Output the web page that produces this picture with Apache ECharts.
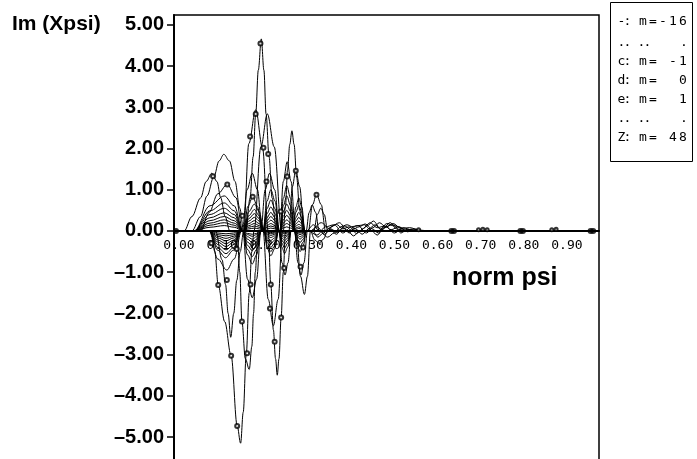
<!DOCTYPE html>
<html>
<head>
<meta charset="utf-8">
<script src="https://cdn.jsdelivr.net/npm/echarts@6.0.0/dist/echarts.min.js"></script>
<style>
html,body{margin:0;padding:0;background:#fff;}
#chart{width:697px;height:459px;}
</style>
</head>
<body>
<div id="chart"></div>
<script>
// Tick labels
const yTicks = [-5, -4, -3, -2, -1, 0, 1, 2, 3, 4, 5];
const xTicks = [0, 0.1, 0.2, 0.3, 0.4, 0.5, 0.6, 0.7, 0.8, 0.9];

// Legend rows: letter, m value
const legendLetters = ['-', 'c', 'd', 'e', 'Z'];
const legendValues = ['-16', ' -1', '  0', '  1', ' 48'];

// Large curves
const curve01 = [[0,0],[0.03,0],[0.05,0.35],[0.065,0.85],[0.081,1.32],[0.093,1.7],[0.104,1.86],[0.117,1.7],[0.13,1.2],[0.141,0.55],[0.15,0],[0.155,0],[0.165,0.8],[0.172,1.8],[0.178,2.84],[0.184,3.9],[0.191,4.66],[0.197,3.9],[0.202,2.84],[0.209,1.8],[0.216,0.8],[0.226,0],[0.232,0],[0.239,-0.77],[0.246,-1.07],[0.253,-0.77],[0.26,0],[0.3,0],[0.31,0.64],[0.319,0.89],[0.33,0.64],[0.34,0],[0.97,0]];
const curve02 = [[0,0],[0.06,0],[0.075,0],[0.083,-0.5],[0.091,-1.31],[0.106,-2.2],[0.121,-3.03],[0.135,-4.73],[0.143,-5.15],[0.149,-4.4],[0.156,-3.0],[0.163,-1.5],[0.169,-0.5],[0.174,0],[0.19,2.04],[0.205,2.84],[0.221,2.04],[0.238,0],[0.272,0],[0.282,-1.1],[0.291,-1.54],[0.298,-1.1],[0.305,0],[0.97,0]];
const curve03 = [[0,0],[0.012,0],[0.03,0.35],[0.05,0.8],[0.063,1.2],[0.076,1.4],[0.088,1.2],[0.097,0.8],[0.107,0.35],[0.118,0],[0.135,0],[0.141,-1.0],[0.146,-2.2],[0.154,-3.1],[0.163,-3.36],[0.169,-2.8],[0.173,-2.0],[0.177,-1.0],[0.183,0],[0.19,0],[0.2,1.0],[0.21,1.4],[0.222,1.0],[0.233,0],[0.268,0],[0.276,-0.77],[0.283,-1.07],[0.29,-0.77],[0.298,0],[0.97,0]];
const curve04 = [[0,0],[0.085,0],[0.1,-0.7],[0.108,-1.3],[0.114,-2.0],[0.12,-2.58],[0.127,-2.0],[0.134,-1.2],[0.142,-0.5],[0.15,0],[0.162,2.12],[0.178,2.94],[0.194,2.0],[0.207,0],[0.213,-1.3],[0.219,-2.4],[0.224,-3.1],[0.228,-3.5],[0.232,-3.1],[0.237,-2.1],[0.242,-1.0],[0.247,0],[0.97,0]];
const curve05 = [[0,0],[0.07,0],[0.09,-0.68],[0.111,-0.95],[0.128,-0.68],[0.145,0],[0.147,0],[0.158,1.0],[0.17,1.4],[0.182,1.0],[0.193,0],[0.195,0],[0.207,-1.66],[0.219,-2.3],[0.23,-1.66],[0.24,0],[0.242,0],[0.247,0.6],[0.252,1.5],[0.257,2.1],[0.262,2.43],[0.267,2.1],[0.273,1.3],[0.28,0.5],[0.288,0],[0.97,0]];
const curve06 = [[0,0],[0.05,0],[0.07,0.45],[0.09,0.9],[0.112,1.13],[0.132,0.81],[0.148,0],[0.159,-1.17],[0.17,-1.62],[0.18,-1.17],[0.19,0],[0.195,0],[0.204,0.72],[0.213,1.0],[0.223,0.72],[0.232,0],[0.234,0],[0.242,1.2],[0.251,1.68],[0.26,1.2],[0.27,0],[0.305,0],[0.315,-0.22],[0.325,-0.3],[0.335,-0.2],[0.345,0],[0.97,0]];
const curve07 = [[0,0],[0.07,0],[0.09,-0.47],[0.108,-0.65],[0.126,-0.47],[0.145,0],[0.15,0],[0.16,0.6],[0.171,0.83],[0.182,0.6],[0.192,0],[0.197,0],[0.205,-0.43],[0.213,-0.6],[0.222,-0.43],[0.231,0],[0.255,0],[0.263,1.07],[0.271,1.48],[0.28,1.07],[0.29,0],[0.295,0],[0.302,0.45],[0.309,0.63],[0.317,0.45],[0.325,0],[0.97,0]];

// Nested curves, first family
const curve08 = [[0,0],[0.035,0],[0.072,0.61],[0.105,0.85],[0.128,0.61],[0.148,0],[0.159,-0.58],[0.17,-0.8],[0.18,-0.58],[0.19,0],[0.195,0],[0.204,0.54],[0.213,0.75],[0.223,0.54],[0.232,0],[0.239,-0.4],[0.245,-0.55],[0.252,-0.4],[0.26,0],[0.264,0],[0.271,0.58],[0.278,0.8],[0.285,0.58],[0.292,0],[0.313,0],[0.321,0.4],[0.329,0.55],[0.337,0.4],[0.345,0],[0.355,0.12],[0.372,0.2],[0.39,0.02],[0.405,-0.12],[0.42,0],[0.436,0.12],[0.451,0.24],[0.468,0.05],[0.482,0.18],[0.5,0.12],[0.515,-0.05],[0.53,0.04],[0.56,0],[0.97,0]];
const curve09 = [[0,0],[0.035,0],[0.072,0.49],[0.105,0.68],[0.128,0.49],[0.148,0],[0.159,-0.45],[0.17,-0.62],[0.18,-0.45],[0.19,0],[0.195,0],[0.204,0.42],[0.213,0.58],[0.223,0.42],[0.232,0],[0.239,-0.3],[0.245,-0.42],[0.252,-0.3],[0.26,0],[0.264,0],[0.271,0.45],[0.278,0.62],[0.285,0.45],[0.292,0],[0.305,0],[0.33,0.2],[0.35,0.05],[0.365,-0.08],[0.38,0.08],[0.395,-0.05],[0.41,0.12],[0.43,0.15],[0.445,0.02],[0.46,-0.1],[0.475,0.08],[0.495,0.15],[0.51,0.1],[0.525,0.02],[0.545,0.05],[0.57,0],[0.97,0]];
const curve10 = [[0,0],[0.035,0],[0.072,0.4],[0.105,0.55],[0.128,0.4],[0.148,0],[0.159,-0.35],[0.17,-0.48],[0.18,-0.35],[0.19,0],[0.195,0],[0.204,0.32],[0.213,0.45],[0.223,0.32],[0.232,0],[0.239,-0.23],[0.245,-0.32],[0.252,-0.23],[0.26,0],[0.264,0],[0.271,0.32],[0.278,0.45],[0.285,0.32],[0.292,0],[0.31,0],[0.322,-0.15],[0.335,-0.05],[0.35,0.08],[0.365,0.16],[0.38,0.05],[0.395,0.1],[0.412,-0.06],[0.428,0.06],[0.443,0.2],[0.46,0.08],[0.478,0.12],[0.492,0.03],[0.51,0.1],[0.53,-0.02],[0.55,0.03],[0.58,0],[0.97,0]];
const curve11 = [[0,0],[0.035,0],[0.072,0.32],[0.105,0.44],[0.128,0.32],[0.148,0],[0.159,-0.27],[0.17,-0.37],[0.18,-0.27],[0.19,0],[0.195,0],[0.204,0.25],[0.213,0.35],[0.223,0.25],[0.232,0],[0.239,-0.17],[0.245,-0.24],[0.252,-0.17],[0.26,0],[0.264,0],[0.271,0.24],[0.278,0.33],[0.285,0.24],[0.292,0],[0.97,0]];
const curve12 = [[0,0],[0.035,0],[0.072,0.25],[0.105,0.35],[0.128,0.25],[0.148,0],[0.159,-0.2],[0.17,-0.28],[0.18,-0.2],[0.19,0],[0.195,0],[0.204,0.19],[0.213,0.26],[0.223,0.19],[0.232,0],[0.239,-0.12],[0.245,-0.17],[0.252,-0.12],[0.26,0],[0.264,0],[0.271,0.17],[0.278,0.24],[0.285,0.17],[0.292,0],[0.97,0]];
const curve13 = [[0,0],[0.035,0],[0.072,0.19],[0.105,0.27],[0.128,0.19],[0.148,0],[0.159,-0.14],[0.17,-0.2],[0.18,-0.14],[0.19,0],[0.195,0],[0.204,0.13],[0.213,0.18],[0.223,0.13],[0.232,0],[0.239,-0.09],[0.245,-0.12],[0.252,-0.09],[0.26,0],[0.264,0],[0.271,0.12],[0.278,0.16],[0.285,0.12],[0.292,0],[0.97,0]];
const curve14 = [[0,0],[0.035,0],[0.072,0.14],[0.105,0.2],[0.128,0.14],[0.148,0],[0.159,-0.09],[0.17,-0.13],[0.18,-0.09],[0.19,0],[0.195,0],[0.204,0.09],[0.213,0.12],[0.223,0.09],[0.232,0],[0.239,-0.05],[0.245,-0.07],[0.252,-0.05],[0.26,0],[0.264,0],[0.271,0.07],[0.278,0.1],[0.285,0.07],[0.292,0],[0.97,0]];
const curve15 = [[0,0],[0.035,0],[0.072,0.09],[0.105,0.13],[0.128,0.09],[0.148,0],[0.159,-0.06],[0.17,-0.08],[0.18,-0.06],[0.19,0],[0.195,0],[0.204,0.05],[0.213,0.07],[0.223,0.05],[0.232,0],[0.239,-0.03],[0.245,-0.04],[0.252,-0.03],[0.26,0],[0.264,0],[0.271,0.04],[0.278,0.06],[0.285,0.04],[0.292,0],[0.97,0]];

// Nested curves, second family
const curve16 = [[0,0],[0.07,0],[0.09,-0.4],[0.109,-0.55],[0.127,-0.4],[0.143,0],[0.15,0],[0.162,0.47],[0.175,0.65],[0.186,0.47],[0.197,0],[0.205,-0.36],[0.213,-0.5],[0.222,-0.36],[0.231,0],[0.235,0],[0.242,0.79],[0.25,1.1],[0.259,0.79],[0.268,0],[0.274,-0.36],[0.281,-0.5],[0.288,-0.36],[0.296,0],[0.312,0.15],[0.325,0],[0.345,-0.15],[0.36,-0.05],[0.375,0.1],[0.39,0.15],[0.41,0.05],[0.425,-0.08],[0.44,0.05],[0.455,0.15],[0.47,0.02],[0.49,0.2],[0.505,0.05],[0.52,0.02],[0.55,0],[0.97,0]];
const curve17 = [[0,0],[0.07,0],[0.09,-0.33],[0.109,-0.46],[0.127,-0.33],[0.143,0],[0.15,0],[0.162,0.37],[0.175,0.52],[0.186,0.37],[0.197,0],[0.205,-0.29],[0.213,-0.4],[0.222,-0.29],[0.231,0],[0.235,0],[0.242,0.61],[0.25,0.85],[0.259,0.61],[0.268,0],[0.274,-0.27],[0.281,-0.38],[0.288,-0.27],[0.296,0],[0.3,0],[0.32,-0.1],[0.34,0.1],[0.36,0.15],[0.38,-0.05],[0.4,0.1],[0.415,0.13],[0.435,-0.05],[0.45,0.08],[0.465,0.2],[0.48,0.1],[0.5,-0.05],[0.52,0.08],[0.54,0.02],[0.56,0],[0.97,0]];
const curve18 = [[0,0],[0.07,0],[0.09,-0.27],[0.109,-0.38],[0.127,-0.27],[0.143,0],[0.15,0],[0.162,0.3],[0.175,0.42],[0.186,0.3],[0.197,0],[0.205,-0.22],[0.213,-0.31],[0.222,-0.22],[0.231,0],[0.235,0],[0.242,0.47],[0.25,0.65],[0.259,0.47],[0.268,0],[0.274,-0.2],[0.281,-0.28],[0.288,-0.2],[0.296,0],[0.305,0],[0.32,0.1],[0.338,-0.08],[0.352,0.05],[0.368,-0.04],[0.385,0.12],[0.4,0.02],[0.418,0.1],[0.432,0.17],[0.448,0.05],[0.463,-0.05],[0.48,0.1],[0.497,0.18],[0.515,0.06],[0.535,0.08],[0.56,0.01],[0.6,0],[0.97,0]];
const curve19 = [[0,0],[0.07,0],[0.09,-0.22],[0.109,-0.31],[0.127,-0.22],[0.143,0],[0.15,0],[0.162,0.24],[0.175,0.33],[0.186,0.24],[0.197,0],[0.205,-0.17],[0.213,-0.23],[0.222,-0.17],[0.231,0],[0.235,0],[0.242,0.36],[0.25,0.5],[0.259,0.36],[0.268,0],[0.274,-0.14],[0.281,-0.2],[0.288,-0.14],[0.296,0],[0.97,0]];
const curve20 = [[0,0],[0.07,0],[0.09,-0.17],[0.109,-0.24],[0.127,-0.17],[0.143,0],[0.15,0],[0.162,0.18],[0.175,0.25],[0.186,0.18],[0.197,0],[0.205,-0.12],[0.213,-0.16],[0.222,-0.12],[0.231,0],[0.235,0],[0.242,0.27],[0.25,0.38],[0.259,0.27],[0.268,0],[0.274,-0.1],[0.281,-0.14],[0.288,-0.1],[0.296,0],[0.97,0]];
const curve21 = [[0,0],[0.07,0],[0.09,-0.13],[0.109,-0.18],[0.127,-0.13],[0.143,0],[0.15,0],[0.162,0.13],[0.175,0.18],[0.186,0.13],[0.197,0],[0.205,-0.08],[0.213,-0.11],[0.222,-0.08],[0.231,0],[0.235,0],[0.242,0.19],[0.25,0.27],[0.259,0.19],[0.268,0],[0.274,-0.06],[0.281,-0.09],[0.288,-0.06],[0.296,0],[0.97,0]];
const curve22 = [[0,0],[0.07,0],[0.09,-0.09],[0.109,-0.12],[0.127,-0.09],[0.143,0],[0.15,0],[0.162,0.09],[0.175,0.12],[0.186,0.09],[0.197,0],[0.205,-0.05],[0.213,-0.07],[0.222,-0.05],[0.231,0],[0.235,0],[0.242,0.13],[0.25,0.18],[0.259,0.13],[0.268,0],[0.274,-0.04],[0.281,-0.05],[0.288,-0.04],[0.296,0],[0.97,0]];
const curve23 = [[0,0],[0.07,0],[0.09,-0.05],[0.109,-0.07],[0.127,-0.05],[0.143,0],[0.15,0],[0.162,0.05],[0.175,0.07],[0.186,0.05],[0.197,0],[0.205,-0.03],[0.213,-0.04],[0.222,-0.03],[0.231,0],[0.235,0],[0.242,0.07],[0.25,0.1],[0.259,0.07],[0.268,0],[0.274,-0.02],[0.281,-0.03],[0.288,-0.02],[0.296,0],[0.97,0]];

// Letter markers sitting on the curves
const curveMarks = [[0.189,4.55],[0.178,2.84],[0.165,2.29],[0.196,2.02],[0.207,1.87],[0.079,1.33],[0.112,1.13],[0.171,0.83],[0.203,1.2],[0.147,0.37],[0.236,0.47],[0.251,1.32],[0.271,1.46],[0.319,0.88],
  [0.075,-0.3],[0.091,-1.31],[0.111,-1.19],[0.134,-0.44],[0.121,-3.03],[0.135,-4.73],[0.146,-2.2],[0.158,-2.97],[0.166,-1.3],[0.211,-1.88],[0.222,-2.69],[0.237,-2.1],[0.213,-1.3],[0.244,-0.9],[0.282,-0.87],[0.288,-0.4]];
// Marker clusters where all curves meet on the zero line
const zeroMarks = [[-0.007,0],[0.632,0],[0.638,0],[0.792,0],[0.798,0],[0.955,0],[0.961,0]];
const smallMarks = [[0.556,0.03],[0.695,0.03],[0.705,0.04],[0.715,0.03],[0.865,0.03],[0.875,0.04]];

const curves = [curve01, curve02, curve03, curve04, curve05, curve06, curve07, curve08, curve09, curve10, curve11, curve12,
  curve13, curve14, curve15, curve16, curve17, curve18, curve19, curve20, curve21, curve22, curve23];

const chartEl = document.getElementById('chart');
const chart = echarts.init(chartEl, null, {renderer: 'canvas'});

// Plot area geometry (pixels)
const GRID_TOP = 15, GRID_BOTTOM = -5, Y_MIN = -5.655, Y_MAX = 5.24;
const plotHeight = chartEl.clientHeight - GRID_TOP - GRID_BOTTOM;
// Shift the x axis (line and labels) up from the bottom edge to the y = 0 level
const zeroShift = -plotHeight * (0 - Y_MIN) / (Y_MAX - Y_MIN);

const series = curves.map(function (d) {
  return {
    type: 'line', data: d, smooth: 0.35, smoothMonotone: 'x', symbol: 'none',
    lineStyle: {color: '#000', width: 1}, silent: true, z: 3
  };
});
series.push({
  type: 'scatter', data: curveMarks, symbol: 'emptyCircle', symbolSize: 4,
  itemStyle: {color: '#000', borderColor: '#000', borderWidth: 1}, silent: true, z: 4
});
series.push({
  type: 'scatter', data: zeroMarks, symbol: 'circle', symbolSize: 6,
  itemStyle: {color: '#000'}, silent: true, z: 4
});
series.push({
  type: 'scatter', data: smallMarks, symbol: 'emptyCircle', symbolSize: 3,
  itemStyle: {color: '#000', borderColor: '#000', borderWidth: 1}, silent: true, z: 4
});

// Legend box contents
const legendGraphics = [{
  type: 'rect', shape: {x: 610.5, y: 2.5, width: 82, height: 159},
  style: {fill: '#fff', stroke: '#000', lineWidth: 1}, z: 10
}];
const rowY = [22, 62, 81, 100, 138];
const rightCols = [643, 653, 663, 673, 683];
const monoFont = '13px "DejaVu Sans Mono"';
function addChar(ch, x, y) {
  if (ch === ' ') return;
  legendGraphics.push({
    type: 'text', x: x, y: y, z: 11,
    style: {text: ch, font: monoFont, fill: '#000', align: 'center', verticalAlign: 'middle',
      textAlign: 'center', textVerticalAlign: 'middle'}
  });
}
legendLetters.forEach(function (letter, i) {
  addChar(letter, 621.5, rowY[i]);
  addChar(':', 627.5, rowY[i]);
  const right = 'm=' + legendValues[i];
  for (let k = 0; k < right.length; k++) addChar(right[k], rightCols[k], rowY[i]);
});
[43, 119].forEach(function (y) {
  [621.5, 627.5, 641.5, 647.5, 684].forEach(function (x) {
    addChar('.', x, y);
  });
});

const option = {
  animation: false,
  backgroundColor: '#fff',
  grid: {left: 174, right: 98, top: GRID_TOP, bottom: GRID_BOTTOM, show: true, borderColor: '#000', borderWidth: 1.5,
    backgroundColor: 'transparent', containLabel: false, outerBoundsMode: 'none'},
  xAxis: {
    type: 'value', min: -0.0116, max: 0.9745, position: 'bottom', offset: zeroShift,
    axisLine: {show: true, onZero: false, lineStyle: {color: '#000', width: 2}},
    axisTick: {show: false},
    splitLine: {show: false},
    axisLabel: {
      customValues: xTicks, margin: 8, color: '#000',
      fontFamily: 'DejaVu Sans Mono', fontSize: 13,
      formatter: function (v) { return v.toFixed(2); }
    }
  },
  yAxis: {
    type: 'value', min: Y_MIN, max: Y_MAX,
    axisLine: {show: true, onZero: false, lineStyle: {color: '#000', width: 2}},
    axisTick: {show: true, customValues: yTicks, length: 7, lineStyle: {color: '#000', width: 1.5}},
    splitLine: {show: false},
    axisLabel: {
      customValues: yTicks, margin: 10, color: '#000',
      fontFamily: 'Liberation Sans', fontWeight: 'bold', fontSize: 20,
      formatter: function (v) { return (v < 0 ? '\u2013' : '') + Math.abs(v).toFixed(2); }
    }
  },
  graphic: [
    {type: 'text', x: 12, y: 24, z: 10,
      style: {text: 'Im (Xpsi)', font: 'bold 21px "Liberation Sans"', fill: '#000',
        verticalAlign: 'middle', textVerticalAlign: 'middle'}},
    {type: 'text', x: 452, y: 278, z: 10,
      style: {text: 'norm psi', font: 'bold 25px "Liberation Sans"', fill: '#000',
        verticalAlign: 'middle', textVerticalAlign: 'middle'}}
  ].concat(legendGraphics),
  series: series
};
chart.setOption(option);
</script>
</body>
</html>
